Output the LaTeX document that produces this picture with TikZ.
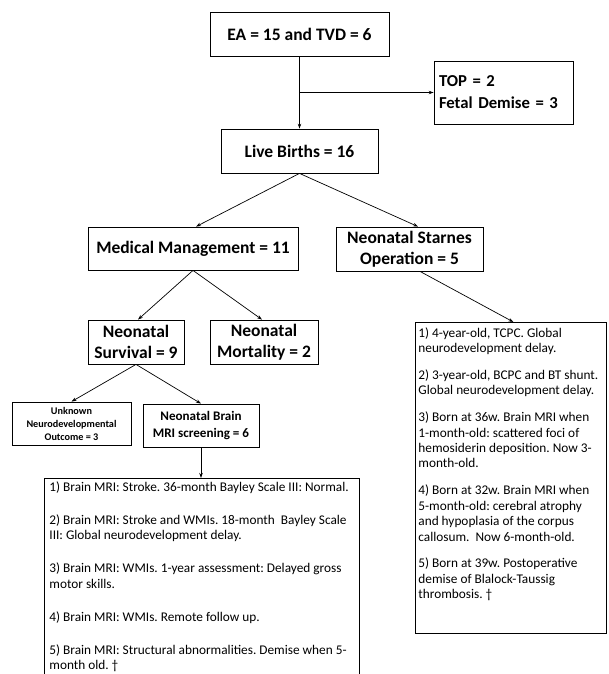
\documentclass[tikz,border=0pt]{standalone}
\usepackage{fontspec}
\setmainfont{Carlito}
\usetikzlibrary{arrows.meta}

\begin{document}
\frenchspacing
\begin{tikzpicture}[x=1pt, y=-1pt,
		box/.style={draw, line width=0.8pt, inner sep=0pt, align=center, font=\bfseries\fontsize{17.5}{21}\selectfont},
		list/.style={draw, line width=0.8pt, inner sep=0pt, anchor=north west, font=\fontsize{13.3}{15.2}\selectfont},
		arr/.style={-{Stealth[length=5pt, width=3.5pt]}, line width=0.7pt}]
		\clip (0,0) rectangle (608,674);
		\useasboundingbox (0,0) rectangle (608,674);
		\node[box, minimum width=179, minimum height=44] (ea) at (299.5,34) {EA = 15 and TVD = 6};
		\node[box, minimum width=139, minimum height=63, text width=129, align=left, font=\bfseries\fontsize{16.7}{22}\selectfont] (top) at (503.5,92.5) {TOP = 2\\Fetal Demise = 3};
		\node[box, minimum width=157, minimum height=44] (lb) at (299.5,151) {Live Births = 16};
		\node[box, minimum width=210, minimum height=43] (mm) at (193,248.5) {Medical Management = 11};
		\node[box, minimum width=147, minimum height=44] (nso) at (409.5,249) {Neonatal Starnes\\Operation = 5};
		\node[box, minimum width=96, minimum height=44] (ns) at (136,342) {Neonatal\\Survival = 9};
		\node[box, minimum width=108, minimum height=44] (nm) at (264,342) {Neonatal\\Mortality = 2};
		\node[box, minimum width=119, minimum height=43, font=\bfseries\fontsize{10.2}{13}\selectfont] (unk) at (71.5,423.5) {Unknown\\Neurodevelopmental\\Outcome = 3};
		\node[box, minimum width=116, minimum height=43, font=\bfseries\fontsize{13.1}{17}\selectfont] (nb) at (201,425.5) {Neonatal Brain\\MRI screening = 6};
		\node[list] (bot) at (44,478) {\begin{minipage}[t][215pt][t]{315pt}
			\raggedright\leftskip=5pt\vspace*{3.5pt}
			1) Brain MRI: Stroke. 36-month Bayley Scale III: Normal.\\[17.8pt]
			2) Brain MRI: Stroke and WMIs. 18-month\ \ Bayley Scale\\
			III: Global neurodevelopment delay.\\[17.8pt]
			3) Brain MRI: WMIs. 1-year assessment: Delayed gross\\
			motor skills.\\[17.8pt]
			4) Brain MRI: WMIs. Remote follow up.\\[17.8pt]
			5) Brain MRI: Structural abnormalities. Demise when 5-\\
			month old. \textdagger
		\end{minipage}};
		\node[list, font=\fontsize{13.3}{15.4}\selectfont] (res) at (415,322) {\begin{minipage}[t][311pt][t]{191pt}
			\raggedright\leftskip=3pt\vspace*{5pt}
			1) 4-year-old, TCPC. Global\\
			neurodevelopment delay.\\[11.5pt]
			2) 3-year-old, BCPC and BT shunt.\\
			Global neurodevelopment delay.\\[11.5pt]
			3) Born at 36w. Brain MRI when\\
			1-month-old: scattered foci of\\
			hemosiderin deposition. Now 3-\\
			month-old.\\[11.5pt]
			4) Born at 32w. Brain MRI when\\
			5-month-old: cerebral atrophy\\
			and hypoplasia of the corpus\\
			callosum.\ \ Now 6-month-old.\\[11.5pt]
			5) Born at 39w. Postoperative\\
			demise of Blalock-Taussig\\
			thrombosis. \textdagger
		\end{minipage}};
		\draw[arr] (ea.south) -- (lb.north);
		\draw[arr] (ea.south |- top.west) -- (top.west);
		\draw[arr] (lb.south) -- ([xshift=3pt]mm.north);
		\draw[arr] (lb.south) -- ([xshift=8.5pt]nso.north);
		\draw[arr] (mm.south) -- ([xshift=2pt]ns.north);
		\draw[arr] (mm.south) -- ([xshift=-2pt]nm.north);
		\draw[arr] ([xshift=10.5pt]nso.south) -- ([xshift=2.5pt]res.north);
		\draw[arr] (ns.south) -- (unk.north);
		\draw[arr] (ns.south) -- (nb.north);
		\draw[arr] (nb.south) -- (nb.south |- bot.north);
\end{tikzpicture}
\end{document}
